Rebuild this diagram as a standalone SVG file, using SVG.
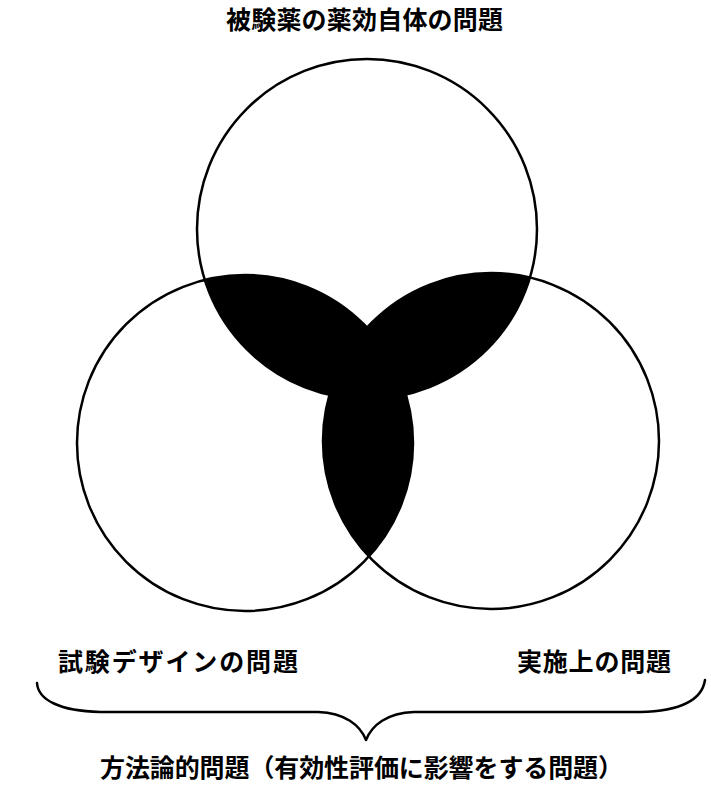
<svg xmlns="http://www.w3.org/2000/svg" width="711" height="789" viewBox="0 0 711 789">
<style>
.c{fill:none;stroke:#000;stroke-width:2.5}
.t{font-family:"Noto Sans CJK JP","Noto Sans CJK SC",sans-serif;font-weight:bold;fill:#000}
.b{fill:none;stroke:#000;stroke-width:2.5;stroke-linecap:round;stroke-linejoin:round}
</style>
<defs>
<clipPath id="clipTop"><circle cx="367" cy="229" r="170"/></clipPath>
<clipPath id="clipLeft"><circle cx="245" cy="443" r="168"/></clipPath>
</defs>
<g id="shading">
<g clip-path="url(#clipTop)">
<circle cx="245" cy="443" r="168" fill="#000"/>
<circle cx="491" cy="441" r="168" fill="#000"/>
</g>
<g clip-path="url(#clipLeft)">
<circle cx="491" cy="441" r="168" fill="#000"/>
</g>
</g>
<g id="top-circle"><circle class="c" cx="367" cy="229" r="170"/></g>
<g id="left-circle"><circle class="c" cx="245" cy="443" r="168"/></g>
<g id="right-circle"><circle class="c" cx="491" cy="441" r="168"/></g>
<g id="title"><text class="t" x="226" y="29" font-size="25" textLength="277" lengthAdjust="spacing">被験薬の薬効自体の問題</text></g>
<g id="left-label"><text class="t" x="58" y="671" font-size="25" textLength="240" lengthAdjust="spacing">試験デザインの問題</text></g>
<g id="right-label"><text class="t" x="517" y="671" font-size="25" textLength="154" lengthAdjust="spacing">実施上の問題</text></g>
<g id="connectors">
<path class="b" d="M37,683 C38,700 60,711 100,712 L318,712 C345,713 360,725 366,740 C372,725 387,713 414,712 L640,712 C680,711 702,700 705,680"/>
</g>
<g id="bottom-label"><text class="t" x="100" y="777" font-size="25" textLength="523" lengthAdjust="spacing">方法論的問題（有効性評価に影響をする問題）</text></g>
</svg>
